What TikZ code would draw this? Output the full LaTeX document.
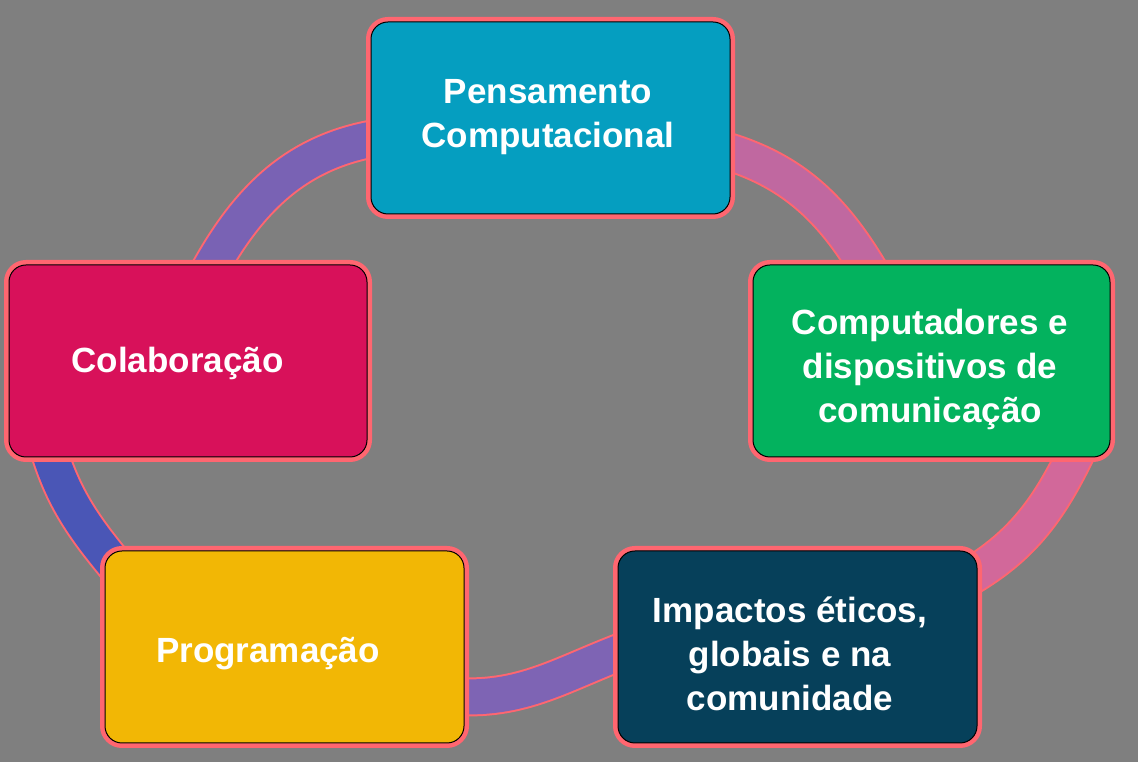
\documentclass[tikz,border=0pt]{standalone}
\usepackage{fontspec}
\setmainfont{Liberation Sans}
\usetikzlibrary{backgrounds}
\definecolor{bggray}{HTML}{7F7F7F}
\definecolor{edgepink}{HTML}{FF6670}
\definecolor{pensblue}{HTML}{059EC0}
\definecolor{compgreen}{HTML}{03B25E}
\definecolor{impdark}{HTML}{06405A}
\definecolor{progyellow}{HTML}{F2B705}
\definecolor{colabred}{HTML}{D8115A}
\definecolor{bandA}{HTML}{7962B4}
\definecolor{bandB}{HTML}{C068A0}
\definecolor{bandC}{HTML}{D2689A}
\definecolor{bandD}{HTML}{7E64B4}
\definecolor{bandE}{HTML}{4A56B6}
\begin{document}
\begin{tikzpicture}[x=1pt,y=1pt,
    box/.style={draw=black, line width=1, rounded corners=17, minimum width=359, minimum height=192,
      inner sep=0, fill=#1, preaction={draw=edgepink, line width=10}},
    band/.style={draw=#1, line width=35, preaction={draw=edgepink, line width=39}},
    boxtext/.style={text=white, font=\bfseries\fontsize{35}{44}\selectfont, align=center, anchor=base}]
    % boxes of the cycle
    \path (550.5,644) node[box=pensblue] (pens) {}
          (931.5,401) node[box=compgreen, minimum width=357] (comp) {}
          (797.5,115) node[box=impdark] (imp) {}
          (284.5,115) node[box=progyellow] (prog) {}
          (188,401) node[box=colabred, minimum width=358] (colab) {};
    \node[boxtext] (penslabel) at (548,614) {Pensamento\\Computacional};
    \node[boxtext] (complabel) at (930,339) {Computadores e\\dispositivos de\\comunicação};
    \node[boxtext] (implabel) at (790,51) {Impactos éticos,\\globais e na\\comunidade};
    \node[boxtext] (proglabel) at (268,99) {Programação};
    \node[boxtext] (colablabel) at (177.5,389) {Colaboração};
    % bands between boxes, behind them
    \begin{scope}[on background layer]
      \fill[bggray] (0,0) rectangle (1138,762);
      \path[band=bandA] ([shift={(10,-27)}]colab.north) to[out=63,in=188] ([shift={(14,-19)}]pens.west);
      \path[band=bandB] ([shift={(-15,-30)}]pens.east) to[out=-15,in=120] ([shift={(-57,-15)}]comp.north);
      \path[band=bandC] ([shift={(151,18)}]comp.south) to[out=-115,in=29] ([shift={(-17,65)}]imp.east);
      \path[band=bandD] ([shift={(-15,-49)}]prog.east) to[out=-5,in=200] ([shift={(14,-1)}]imp.west);
      \path[band=bandE] ([shift={(-142.5,19)}]colab.south) to[out=-75,in=130] ([shift={(23,67)}]prog.west);
    \end{scope}
\end{tikzpicture}
\end{document}
